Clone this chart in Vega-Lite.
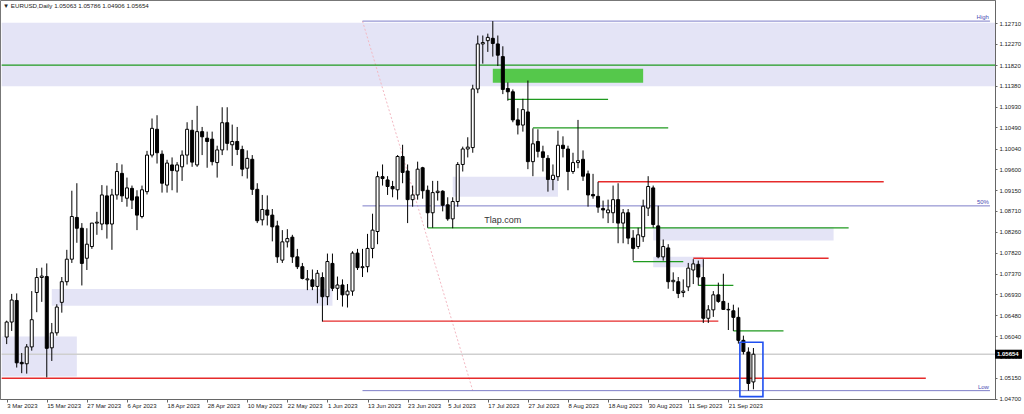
{
  "$schema": "https://vega.github.io/schema/vega-lite/v6.json",
  "width": 995,
  "height": 399,
  "autosize": {"type": "none"},
  "padding": {"left": 0, "top": 0, "right": 29, "bottom": 15},
  "background": "white",
  "title": {
    "text": "▼ EURUSD,Daily  1.05063 1.05786 1.04906 1.05654",
    "anchor": "start",
    "frame": "group",
    "orient": "top",
    "offset": -15,
    "dx": 3,
    "fontSize": 6.2,
    "font": "Liberation Sans",
    "fontWeight": "normal",
    "color": "#222222",
    "baseline": "bottom"
  },
  "config": {
    "view": {"stroke": "#777777", "strokeWidth": 1},
    "font": "Liberation Sans",
    "axis": {"grid": false, "domainColor": "#666666", "tickColor": "#666666", "labelColor": "#222222", "labelFont": "Liberation Sans", "labelFontSize": 6, "labelOverlap": false, "labelBound": false, "labelFlush": false, "tickCount": 40}
  },
  "datasets": {
    "candles": [
      {"d":"2023-03-03","i":0,"o":1.0602,"h":1.0637,"l":1.0587,"c":1.0634},
      {"d":"2023-03-06","i":1,"o":1.0634,"h":1.0694,"l":1.0615,"c":1.0681},
      {"d":"2023-03-07","i":2,"o":1.068,"h":1.0695,"l":1.0537,"c":1.0547},
      {"d":"2023-03-08","i":3,"o":1.0548,"h":1.0568,"l":1.0525,"c":1.0545},
      {"d":"2023-03-09","i":4,"o":1.0545,"h":1.0587,"l":1.0524,"c":1.0581},
      {"d":"2023-03-10","i":5,"o":1.0581,"h":1.07,"l":1.0573,"c":1.0639},
      {"d":"2023-03-13","i":6,"o":1.0697,"h":1.0749,"l":1.0655,"c":1.0729},
      {"d":"2023-03-14","i":7,"o":1.0729,"h":1.075,"l":1.0677,"c":1.0732},
      {"d":"2023-03-15","i":8,"o":1.0731,"h":1.0759,"l":1.0516,"c":1.0578},
      {"d":"2023-03-16","i":9,"o":1.0579,"h":1.0632,"l":1.0551,"c":1.0611},
      {"d":"2023-03-17","i":10,"o":1.0611,"h":1.0672,"l":1.0605,"c":1.0666},
      {"d":"2023-03-20","i":11,"o":1.0676,"h":1.073,"l":1.0654,"c":1.072},
      {"d":"2023-03-21","i":12,"o":1.072,"h":1.0788,"l":1.0712,"c":1.0768},
      {"d":"2023-03-22","i":13,"o":1.0768,"h":1.0914,"l":1.076,"c":1.0859},
      {"d":"2023-03-23","i":14,"o":1.0857,"h":1.093,"l":1.0803,"c":1.0834},
      {"d":"2023-03-24","i":15,"o":1.0834,"h":1.0845,"l":1.0712,"c":1.0759},
      {"d":"2023-03-27","i":16,"o":1.077,"h":1.0834,"l":1.0745,"c":1.08},
      {"d":"2023-03-28","i":17,"o":1.0795,"h":1.0845,"l":1.079,"c":1.0845},
      {"d":"2023-03-29","i":18,"o":1.0845,"h":1.0869,"l":1.082,"c":1.0847},
      {"d":"2023-03-30","i":19,"o":1.0843,"h":1.0926,"l":1.083,"c":1.0905},
      {"d":"2023-03-31","i":20,"o":1.0903,"h":1.0925,"l":1.0812,"c":1.0843},
      {"d":"2023-04-03","i":21,"o":1.0843,"h":1.0918,"l":1.0788,"c":1.0905},
      {"d":"2023-04-04","i":22,"o":1.0905,"h":1.0973,"l":1.0895,"c":1.0955},
      {"d":"2023-04-05","i":23,"o":1.0951,"h":1.097,"l":1.089,"c":1.0903},
      {"d":"2023-04-06","i":24,"o":1.0898,"h":1.0942,"l":1.088,"c":1.092},
      {"d":"2023-04-07","i":25,"o":1.0919,"h":1.0925,"l":1.0875,"c":1.0894},
      {"d":"2023-04-10","i":26,"o":1.0901,"h":1.0915,"l":1.083,"c":1.0862},
      {"d":"2023-04-11","i":27,"o":1.0859,"h":1.0925,"l":1.0855,"c":1.0916},
      {"d":"2023-04-12","i":28,"o":1.0912,"h":1.0999,"l":1.0906,"c":1.099},
      {"d":"2023-04-13","i":29,"o":1.099,"h":1.1068,"l":1.0985,"c":1.1047},
      {"d":"2023-04-14","i":30,"o":1.1045,"h":1.1075,"l":1.0972,"c":1.0995},
      {"d":"2023-04-17","i":31,"o":1.0992,"h":1.1,"l":1.091,"c":1.093},
      {"d":"2023-04-18","i":32,"o":1.0926,"h":1.098,"l":1.091,"c":1.0973},
      {"d":"2023-04-19","i":33,"o":1.0969,"h":1.0985,"l":1.0915,"c":1.0957},
      {"d":"2023-04-20","i":34,"o":1.0956,"h":1.0975,"l":1.091,"c":1.0969},
      {"d":"2023-04-21","i":35,"o":1.0965,"h":1.1,"l":1.0935,"c":1.099},
      {"d":"2023-04-24","i":36,"o":1.099,"h":1.106,"l":1.097,"c":1.1045},
      {"d":"2023-04-25","i":37,"o":1.1043,"h":1.1065,"l":1.0965,"c":1.0975},
      {"d":"2023-04-26","i":38,"o":1.0969,"h":1.1095,"l":1.0965,"c":1.104},
      {"d":"2023-04-27","i":39,"o":1.104,"h":1.105,"l":1.099,"c":1.1029},
      {"d":"2023-04-28","i":40,"o":1.1026,"h":1.104,"l":1.0963,"c":1.1019},
      {"d":"2023-05-01","i":41,"o":1.1024,"h":1.104,"l":1.0968,"c":1.0976},
      {"d":"2023-05-02","i":42,"o":1.0974,"h":1.101,"l":1.0942,"c":1.1001},
      {"d":"2023-05-03","i":43,"o":1.1001,"h":1.1092,"l":1.099,"c":1.1059},
      {"d":"2023-05-04","i":44,"o":1.1059,"h":1.1092,"l":1.1,"c":1.1015},
      {"d":"2023-05-05","i":45,"o":1.1012,"h":1.1055,"l":1.0967,"c":1.1019},
      {"d":"2023-05-08","i":46,"o":1.1019,"h":1.105,"l":1.099,"c":1.1002},
      {"d":"2023-05-09","i":47,"o":1.1002,"h":1.101,"l":1.0945,"c":1.096},
      {"d":"2023-05-10","i":48,"o":1.0962,"h":1.1,"l":1.094,"c":1.0983},
      {"d":"2023-05-11","i":49,"o":1.0981,"h":1.099,"l":1.0905,"c":1.0917},
      {"d":"2023-05-12","i":50,"o":1.0917,"h":1.093,"l":1.0845,"c":1.085},
      {"d":"2023-05-15","i":51,"o":1.0852,"h":1.0905,"l":1.084,"c":1.0874},
      {"d":"2023-05-16","i":52,"o":1.0873,"h":1.0904,"l":1.084,"c":1.0862},
      {"d":"2023-05-17","i":53,"o":1.0862,"h":1.0875,"l":1.0806,"c":1.0837},
      {"d":"2023-05-18","i":54,"o":1.0839,"h":1.085,"l":1.076,"c":1.0773},
      {"d":"2023-05-19","i":55,"o":1.0766,"h":1.083,"l":1.076,"c":1.0805},
      {"d":"2023-05-22","i":56,"o":1.0805,"h":1.0832,"l":1.0793,"c":1.0812},
      {"d":"2023-05-23","i":57,"o":1.0815,"h":1.082,"l":1.076,"c":1.0773},
      {"d":"2023-05-24","i":58,"o":1.0773,"h":1.079,"l":1.0747,"c":1.0752},
      {"d":"2023-05-25","i":59,"o":1.0752,"h":1.076,"l":1.0725,"c":1.0727},
      {"d":"2023-05-26","i":60,"o":1.0724,"h":1.0745,"l":1.0702,"c":1.0726},
      {"d":"2023-05-29","i":61,"o":1.0724,"h":1.0746,"l":1.0702,"c":1.071},
      {"d":"2023-05-30","i":62,"o":1.071,"h":1.0745,"l":1.0674,"c":1.0738},
      {"d":"2023-05-31","i":63,"o":1.0729,"h":1.074,"l":1.0635,"c":1.0688},
      {"d":"2023-06-01","i":64,"o":1.0688,"h":1.078,"l":1.067,"c":1.0763},
      {"d":"2023-06-02","i":65,"o":1.0759,"h":1.078,"l":1.07,"c":1.0706},
      {"d":"2023-06-05","i":66,"o":1.0706,"h":1.0731,"l":1.0681,"c":1.0713},
      {"d":"2023-06-06","i":67,"o":1.0713,"h":1.0725,"l":1.0667,"c":1.0692},
      {"d":"2023-06-07","i":68,"o":1.0692,"h":1.0715,"l":1.0665,"c":1.07},
      {"d":"2023-06-08","i":69,"o":1.07,"h":1.0785,"l":1.069,"c":1.0781},
      {"d":"2023-06-09","i":70,"o":1.0781,"h":1.079,"l":1.0745,"c":1.075},
      {"d":"2023-06-12","i":71,"o":1.075,"h":1.079,"l":1.073,"c":1.0752},
      {"d":"2023-06-13","i":72,"o":1.0752,"h":1.0822,"l":1.074,"c":1.0791},
      {"d":"2023-06-14","i":73,"o":1.0791,"h":1.0865,"l":1.077,"c":1.083},
      {"d":"2023-06-15","i":74,"o":1.0827,"h":1.0955,"l":1.08,"c":1.0944},
      {"d":"2023-06-16","i":75,"o":1.0944,"h":1.097,"l":1.0925,"c":1.094},
      {"d":"2023-06-19","i":76,"o":1.0937,"h":1.0945,"l":1.0905,"c":1.0923},
      {"d":"2023-06-20","i":77,"o":1.0923,"h":1.0935,"l":1.09,"c":1.0918},
      {"d":"2023-06-21","i":78,"o":1.0916,"h":1.099,"l":1.0895,"c":1.0987},
      {"d":"2023-06-22","i":79,"o":1.0987,"h":1.1012,"l":1.093,"c":1.0953},
      {"d":"2023-06-23","i":80,"o":1.0956,"h":1.097,"l":1.0845,"c":1.0895},
      {"d":"2023-06-26","i":81,"o":1.0895,"h":1.0925,"l":1.088,"c":1.0905},
      {"d":"2023-06-27","i":82,"o":1.0905,"h":1.0976,"l":1.0895,"c":1.096},
      {"d":"2023-06-28","i":83,"o":1.0963,"h":1.0965,"l":1.0897,"c":1.0914},
      {"d":"2023-06-29","i":84,"o":1.0915,"h":1.0925,"l":1.0835,"c":1.0867},
      {"d":"2023-06-30","i":85,"o":1.0867,"h":1.0935,"l":1.0835,"c":1.091},
      {"d":"2023-07-03","i":86,"o":1.091,"h":1.0935,"l":1.0893,"c":1.0913},
      {"d":"2023-07-04","i":87,"o":1.0913,"h":1.0915,"l":1.087,"c":1.0883},
      {"d":"2023-07-05","i":88,"o":1.0884,"h":1.09,"l":1.085,"c":1.0854},
      {"d":"2023-07-06","i":89,"o":1.0854,"h":1.09,"l":1.0834,"c":1.0891},
      {"d":"2023-07-07","i":90,"o":1.0891,"h":1.0975,"l":1.088,"c":1.097},
      {"d":"2023-07-10","i":91,"o":1.097,"h":1.1008,"l":1.0955,"c":1.1003},
      {"d":"2023-07-11","i":92,"o":1.1003,"h":1.1028,"l":1.0985,"c":1.1007},
      {"d":"2023-07-12","i":93,"o":1.1006,"h":1.114,"l":1.0995,"c":1.1131},
      {"d":"2023-07-13","i":94,"o":1.1131,"h":1.1245,"l":1.1122,"c":1.1227},
      {"d":"2023-07-14","i":95,"o":1.1227,"h":1.1245,"l":1.1185,"c":1.123},
      {"d":"2023-07-17","i":96,"o":1.1234,"h":1.1249,"l":1.121,"c":1.1241},
      {"d":"2023-07-18","i":97,"o":1.1239,"h":1.12757,"l":1.12,"c":1.1228},
      {"d":"2023-07-19","i":98,"o":1.1227,"h":1.1245,"l":1.118,"c":1.1203},
      {"d":"2023-07-20","i":99,"o":1.12,"h":1.1222,"l":1.112,"c":1.113},
      {"d":"2023-07-21","i":100,"o":1.1132,"h":1.1145,"l":1.1106,"c":1.1125},
      {"d":"2023-07-24","i":101,"o":1.1125,"h":1.113,"l":1.106,"c":1.1065},
      {"d":"2023-07-25","i":102,"o":1.1065,"h":1.109,"l":1.1034,"c":1.1054},
      {"d":"2023-07-26","i":103,"o":1.1054,"h":1.111,"l":1.104,"c":1.1087},
      {"d":"2023-07-27","i":104,"o":1.1082,"h":1.1149,"l":1.096,"c":1.0976},
      {"d":"2023-07-28","i":105,"o":1.0976,"h":1.1047,"l":1.0945,"c":1.1014},
      {"d":"2023-07-31","i":106,"o":1.1019,"h":1.1045,"l":1.0985,"c":1.0998},
      {"d":"2023-08-01","i":107,"o":1.0997,"h":1.101,"l":1.0955,"c":1.0985},
      {"d":"2023-08-02","i":108,"o":1.0983,"h":1.099,"l":1.0912,"c":1.0938},
      {"d":"2023-08-03","i":109,"o":1.0938,"h":1.097,"l":1.0915,"c":1.0947},
      {"d":"2023-08-04","i":110,"o":1.0944,"h":1.1042,"l":1.0935,"c":1.1011},
      {"d":"2023-08-07","i":111,"o":1.1011,"h":1.103,"l":1.0985,"c":1.1004},
      {"d":"2023-08-08","i":112,"o":1.1003,"h":1.101,"l":1.0915,"c":1.0955},
      {"d":"2023-08-09","i":113,"o":1.0955,"h":1.0995,"l":1.095,"c":1.0974},
      {"d":"2023-08-10","i":114,"o":1.0974,"h":1.1065,"l":1.0962,"c":1.0978},
      {"d":"2023-08-11","i":115,"o":1.0981,"h":1.1,"l":1.0935,"c":1.0945},
      {"d":"2023-08-14","i":116,"o":1.095,"h":1.0957,"l":1.088,"c":1.0905},
      {"d":"2023-08-15","i":117,"o":1.0906,"h":1.095,"l":1.0897,"c":1.0903},
      {"d":"2023-08-16","i":118,"o":1.0902,"h":1.0933,"l":1.0867,"c":1.0879},
      {"d":"2023-08-17","i":119,"o":1.0876,"h":1.0893,"l":1.0855,"c":1.0873},
      {"d":"2023-08-18","i":120,"o":1.0867,"h":1.0895,"l":1.0845,"c":1.0873},
      {"d":"2023-08-21","i":121,"o":1.0867,"h":1.0925,"l":1.0845,"c":1.0895},
      {"d":"2023-08-22","i":122,"o":1.0895,"h":1.093,"l":1.0802,"c":1.0845},
      {"d":"2023-08-23","i":123,"o":1.0845,"h":1.0875,"l":1.0802,"c":1.0867},
      {"d":"2023-08-24","i":124,"o":1.0867,"h":1.0875,"l":1.08,"c":1.0813},
      {"d":"2023-08-25","i":125,"o":1.0813,"h":1.083,"l":1.0765,"c":1.0791},
      {"d":"2023-08-28","i":126,"o":1.0795,"h":1.0835,"l":1.079,"c":1.082},
      {"d":"2023-08-29","i":127,"o":1.0816,"h":1.0895,"l":1.0805,"c":1.0881},
      {"d":"2023-08-30","i":128,"o":1.0877,"h":1.0945,"l":1.086,"c":1.0923},
      {"d":"2023-08-31","i":129,"o":1.092,"h":1.0925,"l":1.0835,"c":1.0842},
      {"d":"2023-09-01","i":130,"o":1.0839,"h":1.0882,"l":1.077,"c":1.0773},
      {"d":"2023-09-04","i":131,"o":1.0773,"h":1.081,"l":1.0765,"c":1.0795},
      {"d":"2023-09-05","i":132,"o":1.0792,"h":1.08,"l":1.0705,"c":1.072},
      {"d":"2023-09-06","i":133,"o":1.072,"h":1.074,"l":1.07,"c":1.0723},
      {"d":"2023-09-07","i":134,"o":1.072,"h":1.073,"l":1.0685,"c":1.0695},
      {"d":"2023-09-08","i":135,"o":1.0697,"h":1.0725,"l":1.0687,"c":1.07},
      {"d":"2023-09-11","i":136,"o":1.0709,"h":1.076,"l":1.07,"c":1.0749},
      {"d":"2023-09-12","i":137,"o":1.0745,"h":1.0768,"l":1.0715,"c":1.0758},
      {"d":"2023-09-13","i":138,"o":1.0757,"h":1.0765,"l":1.0712,"c":1.073},
      {"d":"2023-09-14","i":139,"o":1.0729,"h":1.0768,"l":1.0632,"c":1.0642},
      {"d":"2023-09-15","i":140,"o":1.0642,"h":1.067,"l":1.0632,"c":1.066},
      {"d":"2023-09-18","i":141,"o":1.066,"h":1.07,"l":1.0645,"c":1.0692},
      {"d":"2023-09-19","i":142,"o":1.0692,"h":1.0718,"l":1.0675,"c":1.0678},
      {"d":"2023-09-20","i":143,"o":1.0678,"h":1.0737,"l":1.066,"c":1.0661},
      {"d":"2023-09-21","i":144,"o":1.066,"h":1.0675,"l":1.0617,"c":1.0661},
      {"d":"2023-09-22","i":145,"o":1.0658,"h":1.0671,"l":1.0615,"c":1.0644},
      {"d":"2023-09-25","i":146,"o":1.0644,"h":1.0665,"l":1.0588,"c":1.0595},
      {"d":"2023-09-26","i":147,"o":1.0595,"h":1.0605,"l":1.0565,"c":1.0571},
      {"d":"2023-09-27","i":148,"o":1.057,"h":1.058,"l":1.04877,"c":1.0503},
      {"d":"2023-09-28","i":149,"o":1.05063,"h":1.05786,"l":1.04906,"c":1.05654}
    ],
    "zones": [
      {"x1": -1, "x2": 200, "top": 1.1272, "bot": 1.1137},
      {"x1": 9, "x2": 65, "top": 1.07045, "bot": 1.06685},
      {"x1": -1, "x2": 14, "top": 1.0603, "bot": 1.0518},
      {"x1": 89, "x2": 110, "top": 1.0944, "bot": 1.0901},
      {"x1": 129, "x2": 165, "top": 1.0836, "bot": 1.0808},
      {"x1": 129, "x2": 139, "top": 1.0773, "bot": 1.0751}
    ],
    "blocks": [
      {"x1": 97, "x2": 127, "top": 1.1174, "bot": 1.1144}
    ],
    "levels": [
      {"kind": "support", "p": 1.1182, "x1": -1, "x2": 200},
      {"kind": "support", "p": 1.1109, "x1": 100, "x2": 120},
      {"kind": "support", "p": 1.1048, "x1": 105, "x2": 132},
      {"kind": "support", "p": 1.0835, "x1": 84, "x2": 168},
      {"kind": "support", "p": 1.0763, "x1": 125, "x2": 135},
      {"kind": "support", "p": 1.0712, "x1": 138, "x2": 145},
      {"kind": "support", "p": 1.0615, "x1": 145, "x2": 155},
      {"kind": "resistance", "p": 1.0514, "x1": -1, "x2": 183.4},
      {"kind": "resistance", "p": 1.0636, "x1": 63, "x2": 142},
      {"kind": "resistance", "p": 1.0933, "x1": 118, "x2": 175},
      {"kind": "resistance", "p": 1.077, "x1": 137, "x2": 164},
      {"kind": "price", "p": 1.05654, "x1": -1, "x2": 200}
    ],
    "fib": [
      {"label": "High", "p": 1.12757, "x1": 71, "x2": 196.2},
      {"label": "50%", "p": 1.08817, "x1": 71, "x2": 196.2},
      {"label": "Low", "p": 1.04877, "x1": 71, "x2": 196.2}
    ],
    "fibtrend": [
      {"i": 71, "p": 1.12757},
      {"i": 93, "p": 1.04877}
    ],
    "boxes": [
      {"x1": 146.3, "x2": 150.9, "top": 1.0591, "bot": 1.0475}
    ],
    "notes": [
      {"i": 99, "p": 1.0852, "text": "Tlap.com"}
    ],
    "last": [
      {"p": 1.05654}
    ]
  },
  "layer": [
    {
      "data": {"name": "zones"},
      "mark": {"type": "rect", "color": "#e4e4f6", "clip": true},
      "encoding": {
        "x": {"field": "x1", "type": "quantitative", "title": null,
              "scale": {"domain": [-0.3358, 196.207], "nice": false, "zero": false},
              "axis": {
                "values": [0,8,16,24,32,40,48,56,64,72,80,88,96,104,112,120,128,136,144],
                "tickCount": 40,
                "labelExpr": "['3 Mar 2023','15 Mar 2023','27 Mar 2023','6 Apr 2023','18 Apr 2023','28 Apr 2023','10 May 2023','22 May 2023','1 Jun 2023','13 Jun 2023','23 Jun 2023','5 Jul 2023','17 Jul 2023','27 Jul 2023','8 Aug 2023','18 Aug 2023','30 Aug 2023','11 Sep 2023','21 Sep 2023'][round(datum.value/8)]",
                "labelAlign": "left",
                "labelBaseline": "top",
                "labelPadding": 0,
                "tickSize": 3,
                "labelOverlap": false,
                "labelBound": false,
                "labelFlush": false
              }},
        "x2": {"field": "x2"},
        "y": {"field": "top", "type": "quantitative", "title": null,
              "scale": {"domain": [1.04699, 1.13207], "nice": false, "zero": false},
              "axis": {
                "orient": "right",
                "values": [1.1271,1.1227,1.1182,1.1138,1.1093,1.1049,1.1004,1.096,1.0915,1.0871,1.0826,1.0782,1.0737,1.0693,1.0648,1.0604,1.056,1.0515,1.047],
                "tickCount": 40,
                "format": ".5f",
                "tickSize": 2,
                "labelPadding": 2,
                "labelBaseline": "middle",
                "labelOverlap": false,
                "labelBound": false,
                "labelFlush": false
              }},
        "y2": {"field": "bot"}
      }
    },
    {
      "data": {"name": "blocks"},
      "mark": {"type": "rect", "color": "#55c84b"},
      "encoding": {
        "x": {"field": "x1", "type": "quantitative", "title": null},
        "x2": {"field": "x2"},
        "y": {"field": "top", "type": "quantitative", "title": null},
        "y2": {"field": "bot"}
      }
    },
    {
      "data": {"name": "fibtrend"},
      "mark": {"type": "line", "color": "#f3b9c3", "strokeWidth": 1, "strokeDash": [2, 2]},
      "encoding": {
        "x": {"field": "i", "type": "quantitative", "title": null},
        "y": {"field": "p", "type": "quantitative", "title": null}
      }
    },
    {
      "data": {"name": "levels"},
      "mark": {"type": "rule", "clip": true},
      "encoding": {
        "x": {"field": "x1", "type": "quantitative", "title": null},
        "x2": {"field": "x2"},
        "y": {"field": "p", "type": "quantitative", "title": null},
        "color": {"field": "kind", "type": "nominal", "legend": null,
                  "scale": {"domain": ["support", "resistance", "price"], "range": ["#1f9a1f", "#e62b2b", "#cfcfcf"]}},
        "strokeWidth": {"field": "kind", "type": "nominal", "legend": null,
                  "scale": {"domain": ["support", "resistance", "price"], "range": [1.3, 1.6, 1]}}
      }
    },
    {
      "data": {"name": "fib"},
      "mark": {"type": "rule", "color": "#7d7dc8", "strokeWidth": 1, "clip": true},
      "encoding": {
        "x": {"field": "x1", "type": "quantitative", "title": null},
        "x2": {"field": "x2"},
        "y": {"field": "p", "type": "quantitative", "title": null}
      }
    },
    {
      "data": {"name": "fib"},
      "mark": {"type": "text", "color": "#4a4ab4", "fontSize": 6, "align": "right", "baseline": "bottom", "dx": -1, "dy": -1},
      "encoding": {
        "x": {"field": "x2", "type": "quantitative", "title": null},
        "y": {"field": "p", "type": "quantitative", "title": null},
        "text": {"field": "label"}
      }
    },
    {
      "data": {"name": "candles"},
      "mark": {"type": "rule", "color": "#000000", "strokeWidth": 1},
      "encoding": {
        "x": {"field": "i", "type": "quantitative", "title": null},
        "y": {"field": "l", "type": "quantitative", "title": null},
        "y2": {"field": "h"}
      }
    },
    {
      "data": {"name": "candles"},
      "mark": {"type": "bar", "orient": "vertical", "width": 3, "stroke": "#000000", "strokeWidth": 1},
      "encoding": {
        "x": {"field": "i", "type": "quantitative", "title": null},
        "y": {"field": "o", "type": "quantitative", "title": null},
        "y2": {"field": "c"},
        "fill": {"condition": {"test": "datum.c >= datum.o", "value": "#ffffff"}, "value": "#000000"}
      }
    },
    {
      "data": {"name": "boxes"},
      "mark": {"type": "rect", "fill": null, "fillOpacity": 0, "stroke": "#1f4ff0", "strokeWidth": 1.6},
      "encoding": {
        "x": {"field": "x1", "type": "quantitative", "title": null},
        "x2": {"field": "x2"},
        "y": {"field": "top", "type": "quantitative", "title": null},
        "y2": {"field": "bot"}
      }
    },
    {
      "data": {"name": "notes"},
      "mark": {"type": "text", "color": "#333333", "fontSize": 9, "font": "Liberation Sans", "align": "center", "baseline": "middle"},
      "encoding": {
        "x": {"field": "i", "type": "quantitative", "title": null},
        "y": {"field": "p", "type": "quantitative", "title": null},
        "text": {"field": "text"}
      }
    },
    {
      "data": {"name": "last"},
      "mark": {"type": "point", "shape": "M0,-1H6V1H0Z", "size": 81, "filled": true, "color": "#000000", "opacity": 1},
      "encoding": {
        "x": {"value": "width"},
        "y": {"field": "p", "type": "quantitative", "title": null}
      }
    },
    {
      "data": {"name": "last"},
      "mark": {"type": "text", "color": "#ffffff", "fontSize": 6, "fontWeight": "bold", "align": "left", "baseline": "middle", "dx": 2},
      "encoding": {
        "x": {"value": "width"},
        "y": {"field": "p", "type": "quantitative", "title": null},
        "text": {"field": "p", "type": "quantitative", "format": ".5f"}
      }
    }
  ]
}
